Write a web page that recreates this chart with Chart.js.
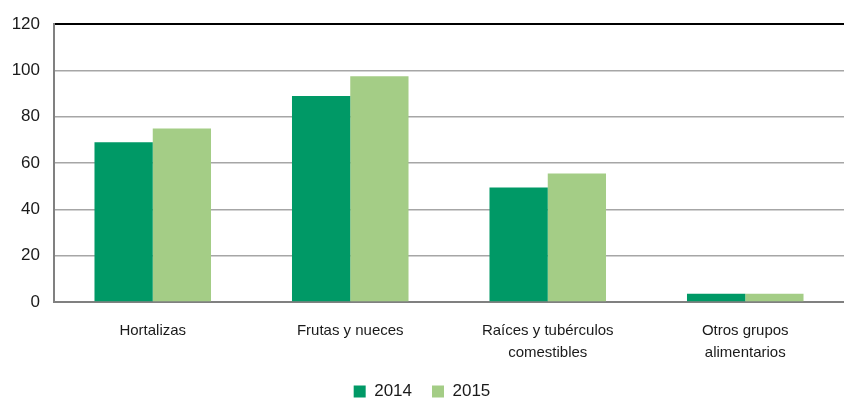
<!DOCTYPE html>
<html>
<head>
<meta charset="utf-8">
<script src="https://cdn.jsdelivr.net/npm/chart.js@4"></script>
<style>
html,body{margin:0;padding:0;background:#fff;}
#wrap{width:844px;height:400px;position:relative;}
</style>
</head>
<body>
<div id="wrap"><canvas id="c"></canvas></div>
<script>
const categories = ['Hortalizas', 'Frutas y nueces', ['Raíces y tubérculos', 'comestibles'], ['Otros grupos', 'alimentarios']];
const seriesNames = ['2014', '2015'];
const values2014 = [69, 89, 49.5, 3.6];
const values2015 = [75, 97.5, 55.5, 3.6];
const yTicks = [0, 20, 40, 60, 80, 100, 120];

const regular = "'Liberation Sans', Arial, sans-serif";

new Chart(document.getElementById('c'), {
  type: 'bar',
  data: {
    labels: categories,
    datasets: [
      { label: seriesNames[0], data: values2014, backgroundColor: '#009966', borderWidth: 0 },
      { label: seriesNames[1], data: values2015, backgroundColor: '#a4cd86', borderWidth: 0 }
    ]
  },
  options: {
    responsive: true,
    maintainAspectRatio: false,
    animation: false,
    devicePixelRatio: 1,
    layout: { padding: { top: 19, right: 0, bottom: -10, left: 0 } },
    datasets: { bar: { categoryPercentage: 0.59, barPercentage: 1.0 } },
    plugins: {
      tooltip: { enabled: false },
      legend: {
        position: 'bottom',
        labels: {
          font: { family: regular, size: 17 },
          color: '#1a1a1a',
          boxWidth: 12,
          boxHeight: 12,
          padding: 20
        }
      }
    },
    scales: {
      x: {
        grid: { display: false, drawTicks: false },
        border: { color: '#808080', width: 2 },
        ticks: {
          font: { family: regular, size: 15, lineHeight: 1.45 },
          color: '#1a1a1a',
          padding: 18,
          maxRotation: 0,
          autoSkip: false
        },
        afterFit: s => { s.height = 61; }
      },
      y: {
        min: 0,
        max: 120,
        afterBuildTicks: s => { s.ticks = yTicks.map(v => ({ value: v })); },
        grid: {
          drawTicks: false,
          color: ctx => (ctx.tick && ctx.tick.value === 120) ? '#000000' : '#a6a6a6',
          lineWidth: ctx => (ctx.tick && ctx.tick.value === 120) ? 2 : 1.5
        },
        border: { color: '#808080', width: 2 },
        ticks: {
          font: { family: regular, size: 17 },
          color: '#1a1a1a',
          padding: 14
        },
        afterFit: s => { s.width = 54; }
      }
    }
  }
});
</script>
</body>
</html>
